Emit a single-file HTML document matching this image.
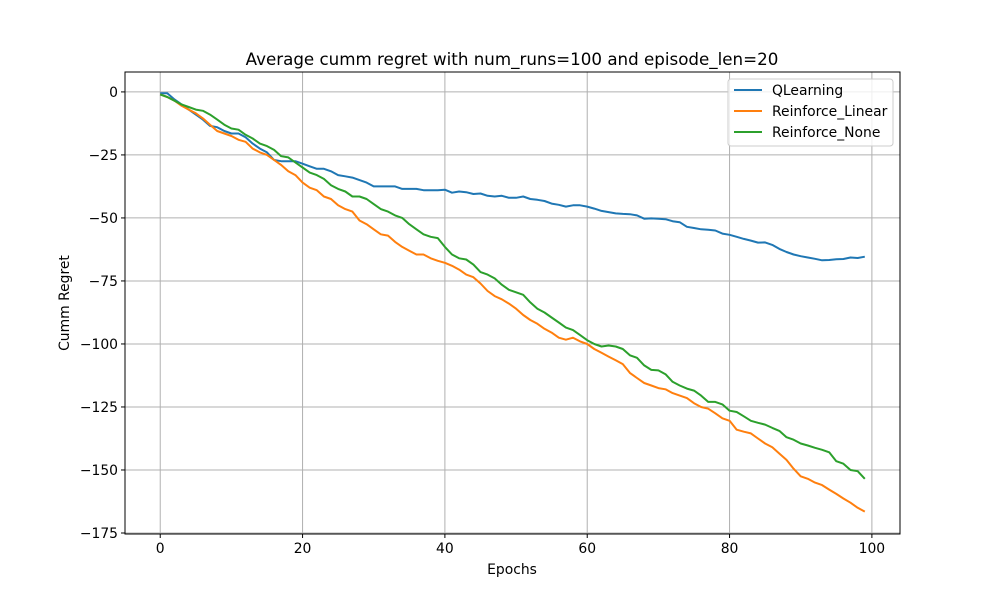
<!DOCTYPE html>
<html><head><meta charset="utf-8"><style>body{margin:0;background:#fff}svg{display:block;font-family:"DejaVu Sans","Liberation Sans",sans-serif}</style></head>
<body>
<svg id="chart" width="1000" height="600" xmlns="http://www.w3.org/2000/svg">
<rect width="1000" height="600" fill="#fff"/>
<g id="grid"></g>
<g id="series"></g>
<rect x="125" y="72" width="775" height="462" fill="none" stroke="#000" stroke-width="1"/>
<g id="ticks"></g>
<text x="512" y="65" text-anchor="middle" font-size="16.7">Average cumm regret with num_runs=100 and episode_len=20</text>
<text x="512" y="574" text-anchor="middle" font-size="13.9">Epochs</text>
<text transform="translate(69,303) rotate(-90)" text-anchor="middle" font-size="13.9">Cumm Regret</text>
<g id="legend"></g>
</svg>
<script>
const seriesNames=["QLearning","Reinforce_Linear","Reinforce_None"];
const colors=["#1f77b4","#ff7f0e","#2ca02c"];
const xTicks=[0,20,40,60,80,100];
const yTicks=[0,-25,-50,-75,-100,-125,-150,-175];
const qlearning=[-0.5,-0.5,-3,-5,-7,-9,-11,-13.5,-14,-15.5,-16.5,-16.5,-18,-20.5,-22.5,-24,-27,-27.5,-27.5,-27.5,-28.5,-29.5,-30.5,-30.5,-31.5,-33,-33.5,-34,-35,-36,-37.5,-37.5,-37.5,-37.5,-38.5,-38.5,-38.5,-39,-39,-39,-38.8,-40,-39.5,-39.8,-40.5,-40.3,-41.2,-41.5,-41.2,-42,-42,-41.5,-42.5,-42.8,-43.3,-44.3,-44.8,-45.5,-45,-45,-45.5,-46.3,-47.2,-47.7,-48.2,-48.4,-48.5,-49,-50.3,-50.2,-50.3,-50.5,-51.3,-51.7,-53.5,-54,-54.5,-54.7,-55,-56.2,-56.7,-57.5,-58.3,-59,-59.8,-59.7,-60.7,-62.3,-63.5,-64.5,-65.2,-65.7,-66.2,-66.8,-66.7,-66.4,-66.3,-65.7,-65.9,-65.4];
const reinforceLinear=[-1,-2,-3.5,-5.5,-7,-8.5,-10.5,-13,-15.5,-16.5,-17.5,-19,-19.8,-22.5,-24,-25,-27,-29,-31.5,-33,-36,-38,-39,-41.5,-42.5,-45,-46.5,-47.5,-51,-52.5,-54.5,-56.5,-57,-59.5,-61.5,-63,-64.5,-64.5,-66,-67,-67.8,-69,-70.5,-72.5,-73.5,-76,-79,-81,-82.3,-84,-86,-88.5,-90.5,-92,-94,-95.5,-97.5,-98.3,-97.5,-99,-100,-102,-103.5,-105,-106.5,-108,-111.5,-113.5,-115.5,-116.5,-117.5,-118,-119.5,-120.5,-121.5,-123.5,-125,-125.7,-127.5,-129.5,-130.5,-134,-134.8,-135.5,-137.5,-139.5,-141,-143.5,-146,-149.5,-152.5,-153.5,-155,-156,-157.8,-159.5,-161.3,-163,-165,-166.5];
const reinforceNone=[-1,-2,-3.5,-5,-6,-7,-7.5,-9,-11,-13,-14.5,-15,-17,-18.5,-20.5,-21.5,-23,-25.5,-26,-28,-30,-32,-33,-34.5,-37,-38.5,-39.5,-41.5,-41.5,-42.5,-44.5,-46.5,-47.5,-49,-50,-52.5,-54.5,-56.5,-57.5,-58,-61.5,-64.5,-66,-66.5,-68.5,-71.5,-72.5,-74,-76.5,-78.5,-79.5,-80.5,-83.5,-86,-87.5,-89.5,-91.5,-93.5,-94.5,-96.5,-98.5,-100,-101,-100.6,-101,-102,-104.5,-105.5,-108.5,-110.3,-110.5,-112,-115,-116.5,-117.7,-118.5,-120.5,-123,-123,-124,-126.5,-127,-128.7,-130.5,-131.3,-132,-133.3,-134.5,-137,-138,-139.5,-140.3,-141.2,-142,-143,-146.5,-147.5,-150,-150.5,-153.5];
const allSeries=[qlearning,reinforceLinear,reinforceNone];
const NS="http://www.w3.org/2000/svg";
const X0=125,X1=900,Y0=72,Y1=534,xmin=-4.95,xmax=103.95,ymin=-175.4,ymax=7.9;
function xs(v){return X0+(v-xmin)/(xmax-xmin)*(X1-X0);}
function ys(v){return Y1-(v-ymin)/(ymax-ymin)*(Y1-Y0);}
function mk(t,a,p){const e=document.createElementNS(NS,t);for(const k in a)e.setAttribute(k,a[k]);p.appendChild(e);return e;}
const grid=document.getElementById('grid'),ticks=document.getElementById('ticks');
xTicks.forEach(t=>{const x=xs(t);
 const g=mk('line',{x1:x,x2:x,y1:Y0,y2:Y1,stroke:'#b0b0b0','stroke-width':1},grid);
 
 
 mk('line',{x1:x,x2:x,y1:Y1,y2:Y1+4,stroke:'#000'},ticks);
 const l=mk('text',{x:x,y:Y1+19,'text-anchor':'middle','font-size':13.9},ticks);l.textContent=t;
 
 });
yTicks.forEach(t=>{const y=ys(t);
 const g=mk('line',{x1:X0,x2:X0+775,y1:y,y2:y,stroke:'#b0b0b0','stroke-width':1},grid);
 
 
 mk('line',{x1:X0-4,x2:X0,y1:y,y2:y,stroke:'#000'},ticks);
 const l=mk('text',{x:X0-7,y:y+5,'text-anchor':'end','font-size':13.9},ticks);l.textContent=t===0?'0':'\u2212'+Math.abs(t);
 
 });
const sg=document.getElementById('series');
allSeries.forEach((s,i)=>{const d=s.map((v,j)=>(j?'L':'M')+xs(j).toFixed(1)+','+ys(v).toFixed(1)).join('');
 const p=mk('path',{d:d,fill:'none',stroke:colors[i],'stroke-width':2,'stroke-linejoin':'round'},sg);
 
 });
const lg=document.getElementById('legend');
mk('rect',{x:728,y:79,width:165,height:67,rx:3,fill:'#fff',stroke:'#ccc','fill-opacity':0.8},lg);
seriesNames.forEach((n,i)=>{const y=90+i*21;
 mk('line',{x1:734,x2:762,y1:y,y2:y,stroke:colors[i],'stroke-width':2},lg);
 const t=mk('text',{x:772,y:y+5,'font-size':13.9},lg);t.textContent=n;
 
 });
</script>
</body></html>
